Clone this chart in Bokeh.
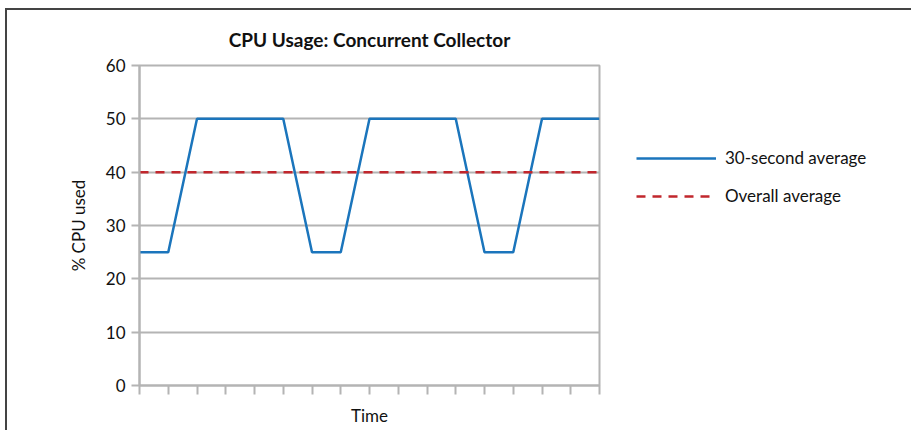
from bokeh.plotting import figure
from bokeh.models import Range1d, Legend, LegendItem, FixedTicker, CustomJSTickFormatter
from bokeh.embed import file_html
from bokeh.resources import INLINE

# ---- data ----
time_idx = list(range(17))
cpu_30s = [25, 25, 50, 50, 50, 50, 25, 25, 50, 50, 50, 50, 25, 25, 50, 50, 50]
overall_avg = [40] * 17
y_ticks = [0, 10, 20, 30, 40, 50, 60]

FONT = "Lato"
GRID = "#b4b4b4"

p = figure(frame_width=460, frame_height=320, output_backend="svg", toolbar_location=None,
           x_range=Range1d(0, 16), y_range=Range1d(0, 60),
           min_border_left=132, min_border_right=10, min_border_top=49,
           min_border_bottom=45)

p.title.text = "CPU Usage: Concurrent Collector"
p.title.align = "center"
p.title.text_font = FONT
p.title.text_font_size = "19px"
p.title.text_font_style = "bold"
p.title.text_color = "#111111"
p.title.text_line_height = 0.7
p.title.standoff = 30

p.outline_line_color = GRID
p.outline_line_width = 2

p.xgrid.visible = False
p.ygrid.ticker = FixedTicker(ticks=y_ticks)
p.ygrid.grid_line_color = GRID
p.ygrid.grid_line_width = 2

for ax in (p.xaxis[0], p.yaxis[0]):
    ax.axis_line_color = GRID
    ax.axis_line_width = 2
    ax.major_tick_line_color = GRID
    ax.major_tick_line_width = 2
    ax.minor_tick_line_color = None
    ax.major_tick_in = 0
    ax.axis_label_text_font = FONT
    ax.axis_label_text_font_size = "17px"
    ax.axis_label_text_font_style = "normal"
    ax.axis_label_text_color = "#111111"
    ax.major_label_text_font = FONT
    ax.major_label_text_font_size = "17px"
    ax.major_label_text_color = "#111111"

p.xaxis.ticker = FixedTicker(ticks=time_idx)
p.xaxis.major_tick_out = 9
p.xaxis.formatter = CustomJSTickFormatter(code="return ''")
p.xaxis.major_label_standoff = 0
p.xaxis.axis_label = "Time"
p.xaxis.axis_label_standoff = 10

p.yaxis.ticker = FixedTicker(ticks=y_ticks)
p.yaxis.major_tick_out = 8
p.yaxis.major_label_standoff = 6
p.yaxis.axis_label = "% CPU used"
p.yaxis.axis_label_standoff = 14

r1 = p.line(time_idx, cpu_30s, line_color="#1b75bc", line_width=2.5)
r2 = p.line(time_idx, overall_avg, line_color="#c1272d", line_width=2.5,
            line_dash="9 7")

legend = Legend(items=[LegendItem(label="30-second average", renderers=[r1]),
                       LegendItem(label="Overall average", renderers=[r2])],
                location="top_left", margin=37, padding=0,
                title=" ", title_text_font_size="20px", title_standoff=22,
                glyph_width=80, glyph_height=20, label_height=20,
                spacing=17, label_standoff=9,
                label_text_font=FONT, label_text_font_size="17px",
                label_text_color="#111111",
                border_line_color=None, background_fill_alpha=0)
p.add_layout(legend, "right")

p.styles = {"border-top": "2px solid #444444", "border-left": "2px solid #444444",
            "margin-left": "5px", "margin-top": "8px"}

open("out.html", "w").write(file_html(p, INLINE))
